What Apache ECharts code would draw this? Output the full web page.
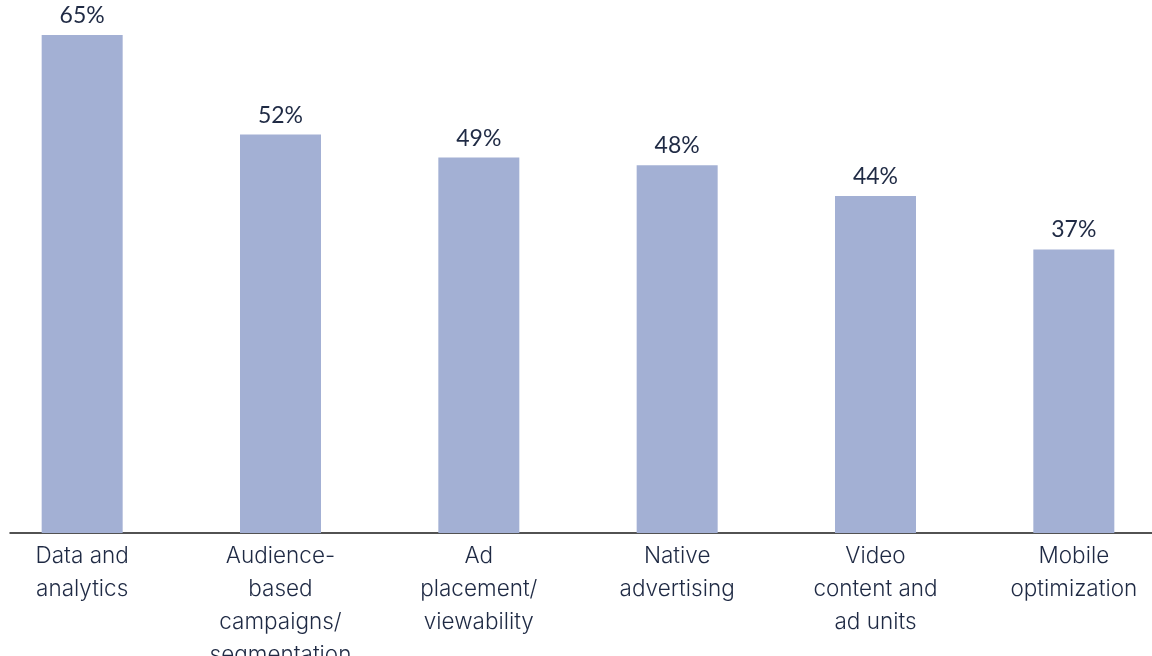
<!DOCTYPE html>
<html><head><meta charset="utf-8">
<script src="https://cdn.jsdelivr.net/npm/echarts@6/dist/echarts.min.js"></script>
<style>html,body{margin:0;padding:0;background:#fff}#c{width:1152px;height:656px}</style>
</head><body><div id="c"></div>
<script>
const categories = ["Data and\nanalytics", "Audience-\nbased\ncampaigns/\nsegmentation", "Ad\nplacement/\nviewability", "Native\nadvertising", "Video\ncontent and\nad units", "Mobile\noptimization"];
const values = [65, 52, 49, 48, 44, 37];

const chart = echarts.init(document.getElementById('c'), null, {renderer: 'canvas'});
const txt = '#1f2a44';
chart.setOption({
  animation: false,
  backgroundColor: '#ffffff',
  grid: [
    {left: -17, width: 1190, top: 35, bottom: 123, containLabel: false, outerBoundsMode: 'none'},
    {left: 10, right: 0, top: 35, bottom: 123, containLabel: false, outerBoundsMode: 'none'}
  ],
  xAxis: [
    {type: 'category', gridIndex: 0, data: categories,
     axisLine: {show: false}, axisTick: {show: false},
     axisLabel: {color: txt, fontFamily: 'Inter', fontWeight: 300, fontSize: 22.5, lineHeight: 33, margin: 7, interval: 0}},
    {type: 'value', gridIndex: 1, min: 0, max: 1,
     axisLine: {show: true, onZero: false, lineStyle: {color: '#1a1a1a', width: 1.5}},
     axisTick: {show: false}, axisLabel: {show: false}, splitLine: {show: false}}
  ],
  yAxis: [
    {type: 'value', gridIndex: 0, min: 0, max: 65, show: false, splitLine: {show: false}},
    {type: 'value', gridIndex: 1, min: 0, max: 1, show: false, splitLine: {show: false}}
  ],
  series: [{
    type: 'bar', xAxisIndex: 0, yAxisIndex: 0,
    data: values, barWidth: 81,
    itemStyle: {color: '#a3b0d4'},
    label: {show: true, position: 'top', distance: 8, formatter: '{c}%',
            color: txt, fontFamily: 'Lato', fontSize: 23}
  }]
});
</script></body></html>
